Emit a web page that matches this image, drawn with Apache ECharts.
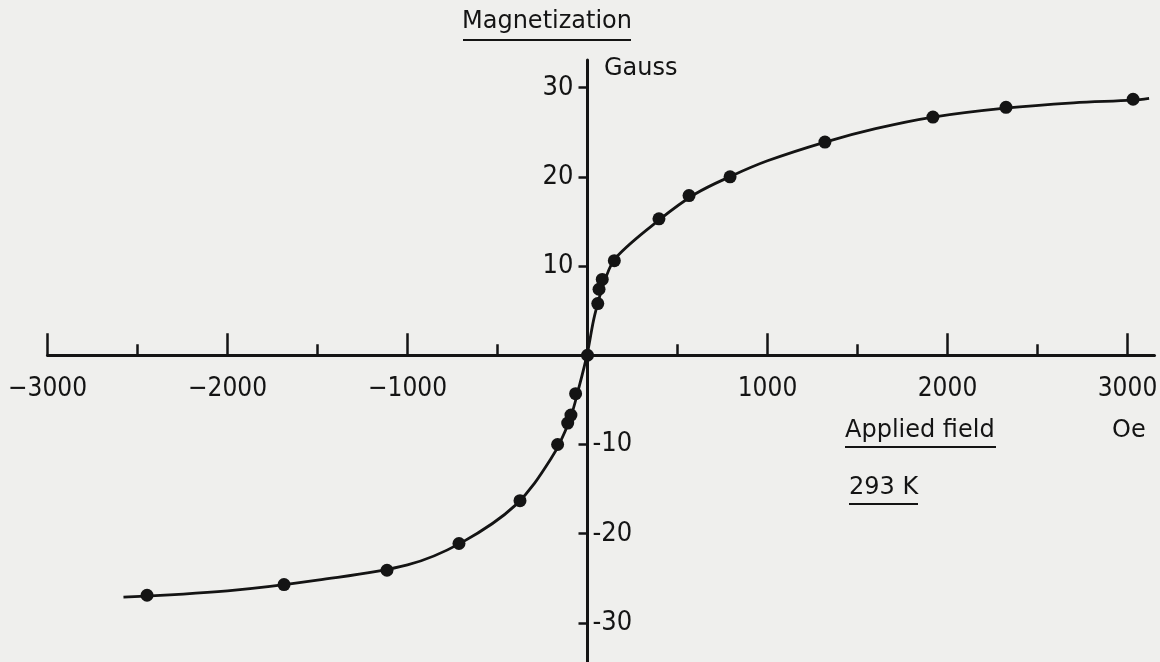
<!DOCTYPE html>
<html><head><meta charset="utf-8">
<script src="https://cdn.jsdelivr.net/npm/echarts@6/dist/echarts.min.js"></script>
<style>html,body{margin:0;padding:0;background:#efefed;}#c{width:1160px;height:662px;}</style>
</head><body><div id="c"></div>
<script>
// Measured points: applied field (Oe) and magnetization (Gauss), 293 K
const fieldOe = [-2447,-1686,-1114,-714,-375,-166,-110,-92,-66,0,57,64,82,149,397,564,792,1319,1919,2325,3031];
const magnetG = [-26.9,-25.7,-24.1,-21.1,-16.3,-10.0,-7.6,-6.7,-4.3,0,5.8,7.4,8.5,10.6,15.3,17.9,20.0,23.9,26.7,27.8,28.7];
// Hand-drawn fitted curve
const curveOe = [-2578,-2000,-1500,-1000,-700,-400,-200,-100,-45,0,40,100,160,400,600,800,1000,1320,1600,1920,2320,2700,3030,3120];
const curveG  = [-27.1,-26.4,-25.2,-23.5,-21.0,-16.8,-11.5,-7.3,-3.4,0.3,4.5,8.6,11.0,15.2,18.1,20.1,21.8,23.9,25.4,26.7,27.7,28.3,28.6,28.8];
// Axis ticks and labels
const xMajorTicks = [-3000,-2000,-1000,1000,2000,3000];
const xMinorTicks = [-2500,-1500,-500,500,1500,2500];
const xTickLabels = ['\u22123000','\u22122000','\u22121000','1000','2000','3000'];
const yTicks = [30,20,10,-10,-20,-30];
const yPosTicks = [30,20,10];
const yPosLabels = ['30','20','10'];
const yNegTicks = [-10,-20,-30];
const yNegLabels = ['-10','-20','-30'];

const INK = '#141414';
const NUM_FONT = '"Liberation Sans Narrow", "DejaVu Sans Condensed", "DejaVu Sans", sans-serif';

const chart = echarts.init(document.getElementById('c'), null, {renderer:'canvas'});
const xMin = -3000, xMax = 3150, yMin = -35, yMax = 33.1;
const G = {left: 47.5, top: 60, width: 1107, height: 607.5};
// pixel positions of the zero lines inside the grid (used to shift axes onto the origin)
const x0px = G.left + (0 - xMin) / (xMax - xMin) * G.width;
const y0px = G.top + (yMax - 0) / (yMax - yMin) * G.height;

function lookup(vals, labels){ return v => { const i = vals.indexOf(v); return i < 0 ? '' : labels[i]; }; }

chart.setOption({
  animation: false,
  backgroundColor: '#efefed',
  grid: Object.assign({containLabel: false, outerBoundsMode: 'none'}, G),
  xAxis: [
    {type:'value', min:xMin, max:xMax, position:'bottom', offset: -(G.top + G.height - y0px),
     axisLine:{onZero:false, lineStyle:{color:INK, width:3}},
     axisTick:{show:true, inside:true, length:22, customValues:xMajorTicks, lineStyle:{color:INK, width:2.5}},
     axisLabel:{show:true, customValues:xMajorTicks, formatter: lookup(xMajorTicks, xTickLabels),
       margin:21, color:INK, fontFamily:NUM_FONT, fontSize:26},
     splitLine:{show:false}},
    {type:'value', min:xMin, max:xMax, position:'top', offset: -(y0px - G.top),
     axisLine:{show:false, onZero:false},
     axisTick:{show:true, inside:false, length:11, customValues:xMinorTicks, lineStyle:{color:INK, width:2.5}},
     axisLabel:{show:false}, splitLine:{show:false}}
  ],
  yAxis: [
    {type:'value', min:yMin, max:yMax, position:'left', offset: -(x0px - G.left),
     axisLine:{onZero:false, lineStyle:{color:INK, width:3}},
     axisTick:{show:true, inside:false, length:9, customValues:yTicks, lineStyle:{color:INK, width:2.5}},
     axisLabel:{show:true, customValues:yPosTicks, formatter: lookup(yPosTicks, yPosLabels),
       margin:14, color:INK, fontFamily:NUM_FONT, fontSize:27},
     splitLine:{show:false}},
    {type:'value', min:yMin, max:yMax, position:'right', offset: -(G.left + G.width - x0px),
     axisLine:{show:false, onZero:false},
     axisTick:{show:false},
     axisLabel:{show:true, customValues:yNegTicks, formatter: lookup(yNegTicks, yNegLabels),
       margin:5, color:INK, fontFamily:NUM_FONT, fontSize:27},
     splitLine:{show:false}}
  ],
  series: [
    {type:'line', xAxisIndex:0, yAxisIndex:0, smooth:0.35, showSymbol:false, symbol:'none',
     lineStyle:{color:INK, width:2.8}, data: curveOe.map((x,i)=>[x, curveG[i]]), z:3},
    {type:'scatter', xAxisIndex:0, yAxisIndex:0, symbol:'circle', symbolSize:13,
     itemStyle:{color:INK, opacity:1}, data: fieldOe.map((x,i)=>[x, magnetG[i]]), z:4}
  ],
  graphic: [
    {type:'text', left:462, top:10, style:{text:'Magnetization', font:'24px "DejaVu Sans"', fill:INK}},
    {type:'line', shape:{x1:463, y1:40, x2:631, y2:40}, style:{stroke:INK, lineWidth:2}},
    {type:'text', left:604, top:57, style:{text:'Gauss', font:'24px "DejaVu Sans"', fill:INK}},
    {type:'text', left:845, top:419, style:{text:'Applied field', font:'24px "DejaVu Sans"', fill:INK}},
    {type:'line', shape:{x1:845, y1:447, x2:996, y2:447}, style:{stroke:INK, lineWidth:2}},
    {type:'text', left:1112, top:419, style:{text:'Oe', font:'24px "DejaVu Sans"', fill:INK}},
    {type:'text', left:849, top:476, style:{text:'293 K', font:'24px "DejaVu Sans"', fill:INK}},
    {type:'line', shape:{x1:849, y1:504, x2:918, y2:504}, style:{stroke:INK, lineWidth:2}}
  ]
});
</script></body></html>
